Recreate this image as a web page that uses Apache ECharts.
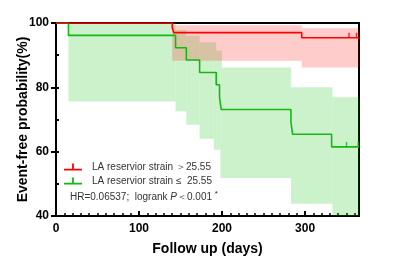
<!DOCTYPE html>
<html>
<head>
<meta charset="utf-8" />
<title>KM curve</title>
<script src="https://cdn.jsdelivr.net/npm/echarts@6/dist/echarts.min.js"></script>
<style>
  html, body { margin: 0; padding: 0; background: #fff; }
  #main { width: 400px; height: 268px; }
</style>
</head>
<body>
<div id="main"></div>
<script type="text/javascript">
// survival curves (days, %)
var highDays = [0, 140, 142, 296, 365];
var highSurv = [100, 98.5, 97.0, 95.4, 95.4];
var lowDays = [0, 15, 144, 157, 173, 193, 197, 199, 283, 285, 332, 365];
var lowSurv = [100, 96.15, 92.3, 88.5, 84.6, 80.8, 76.9, 73.1, 69.2, 65.4, 61.5, 61.5];

// confidence bands (step starts; last day closes the band)
var highBandDays = [140, 296, 365];
var highBandLow = [88.3, 86.2, 86.2];
var highBandUp = [99.3, 98.4, 98.4];
var lowBandDays = [15, 144, 157, 173, 190, 193, 198, 200, 283, 333, 365];
var lowBandLow = [75.6, 72.5, 68.4, 64.0, 60.6, 60.6, 51.8, 51.8, 43.8, 40, 40];
var lowBandUp = [100, 97.9, 96.0, 94.0, 94.0, 91.4, 91.4, 86.2, 80.0, 76.9, 76.9];

// censored marks
var highCensor = [[353, 95.4], [362, 95.4]];
var lowCensor = [[350, 61.5], [364, 61.5]];

var xTicks = [0, 100, 200, 300];
var yTicks = [40, 60, 80, 100];

var nameHigh = 'LA reservior strain ＞25.55';
var nameLow = 'LA reservior strain ≤  25.55';

var RED = '#ff0000';
var GREEN = '#14b814';

function pairs(xs, ys) {
	return xs.map(function (x, i) { return [x, ys[i]]; });
}
// one item per step: [from, to, lower, upper]
function steps(xs, lo, up) {
	var out = [];
	for (var i = 0; i < xs.length - 1; i++) {
		out.push([xs[i], xs[i + 1], lo[i], up[i]]);
	}
	return out;
}

var chart = echarts.init(document.getElementById('main'));
var font = 'Arial, "Liberation Sans", sans-serif';
var tickIcon = 'path://M0,9 L20,9 L20,11 L0,11 Z M9,3 L11,3 L11,10 L9,10 Z';

function band(xs, lo, up, color) {
	return {
		type: 'custom', data: steps(xs, lo, up), silent: true, z: 1,
		renderItem: function (params, api) {
			var p0 = api.coord([api.value(0), api.value(3)]);
			var p1 = api.coord([api.value(1), api.value(2)]);
			var rect = echarts.graphic.clipRectByRect({
				x: p0[0], y: p0[1], width: p1[0] - p0[0], height: p1[1] - p0[1]
			}, {
				x: params.coordSys.x, y: params.coordSys.y,
				width: params.coordSys.width, height: params.coordSys.height
			});
			return rect && { type: 'rect', shape: rect, style: { fill: color } };
		}
	};
}

var option = {
	animation: false,
	grid: {
		left: 56, right: 41, top: 23, bottom: 52,
		show: true, borderColor: '#000', borderWidth: 2
	},
	legend: {
		orient: 'vertical', left: 64, top: 161, itemGap: 2, padding: 0,
		itemWidth: 18, itemHeight: 8,
		data: [{ name: nameHigh, icon: tickIcon }, { name: nameLow, icon: tickIcon }],
		textStyle: { fontFamily: font, fontSize: 10, color: '#333', lineHeight: 12, padding: [0, 0, 0, 5] }
	},
	graphic: [{
		type: 'text', left: 70, top: 190,
		style: {
			text: '{a|HR=0.06537;  logrank }{i|P}{a|＜0.001 }{s|*}',
			rich: {
				a: { fontFamily: font, fontSize: 10, fill: '#333' },
				i: { fontFamily: font, fontSize: 10, fontStyle: 'italic', fill: '#333' },
				s: { fontFamily: font, fontSize: 8, fill: '#333', verticalAlign: 'top', padding: [0, 0, 6, 0] }
			}
		}
	}],
	xAxis: [{
		type: 'value', min: 0, max: 365, interval: 100, position: 'bottom',
		name: 'Follow up (days)', nameLocation: 'middle', nameGap: 26,
		nameTextStyle: { fontFamily: font, fontSize: 14, fontWeight: 'bold', color: '#000' },
		axisLine: { show: true, lineStyle: { color: '#000', width: 2 } },
		axisTick: { show: true, inside: true, length: 5, lineStyle: { color: '#000', width: 2 } },
		axisLabel: {
			margin: 7, fontFamily: font, fontSize: 12, fontWeight: 'bold', color: '#000',
			formatter: function (v) { return xTicks.indexOf(v) >= 0 ? v : ''; }
		},
		splitLine: { show: false }
	}, {
		type: 'value', min: 0, max: 365, interval: 10, position: 'bottom',
		axisLine: { show: false },
		axisTick: { show: true, inside: true, length: 3, lineStyle: { color: '#000', width: 1.5 } },
		axisLabel: { show: false },
		splitLine: { show: false }
	}],
	yAxis: [{
		type: 'value', min: 40, max: 100, interval: 20, position: 'left',
		name: 'Event-free probability(%)', nameLocation: 'middle', nameGap: 26,
		nameMoveOverlap: false,
		nameTextStyle: { fontFamily: font, fontSize: 14, fontWeight: 'bold', color: '#000' },
		axisLine: { show: true, lineStyle: { color: '#000', width: 2 } },
		axisTick: { show: true, inside: false, length: 5, lineStyle: { color: '#000', width: 2 } },
		axisLabel: {
			margin: 7, fontFamily: font, fontSize: 12, fontWeight: 'bold', color: '#000',
			formatter: function (v) { return yTicks.indexOf(v) >= 0 ? v : ''; }
		},
		splitLine: { show: false }
	}, {
		type: 'value', min: 40, max: 100, interval: 10, position: 'left',
		axisLine: { show: false },
		axisTick: { show: true, inside: true, length: 3, lineStyle: { color: '#000', width: 2 } },
		axisLabel: { show: false },
		splitLine: { show: false }
	}],
	series: [
		band(lowBandDays, lowBandLow, lowBandUp, 'rgba(0,190,0,0.2)'),
		band(highBandDays, highBandLow, highBandUp, 'rgba(255,0,0,0.2)'),
		{
			name: nameLow, type: 'line', step: 'end', data: pairs(lowDays, lowSurv),
			symbol: 'none', color: GREEN, lineStyle: { color: GREEN, width: 1.6 }, z: 3
		},
		{
			name: nameHigh, type: 'line', step: 'end', data: pairs(highDays, highSurv),
			symbol: 'none', color: RED, lineStyle: { color: RED, width: 1.6 }, z: 4
		},
		{
			type: 'scatter', data: lowCensor, symbol: 'rect', symbolSize: [1.5, 5],
			symbolOffset: [0, -2.5], itemStyle: { color: GREEN }, silent: true, z: 5
		},
		{
			type: 'scatter', data: highCensor, symbol: 'rect', symbolSize: [1.5, 5],
			symbolOffset: [0, -2.5], itemStyle: { color: RED }, silent: true, z: 5
		}
	]
};
chart.setOption(option);
</script>
</body>
</html>
